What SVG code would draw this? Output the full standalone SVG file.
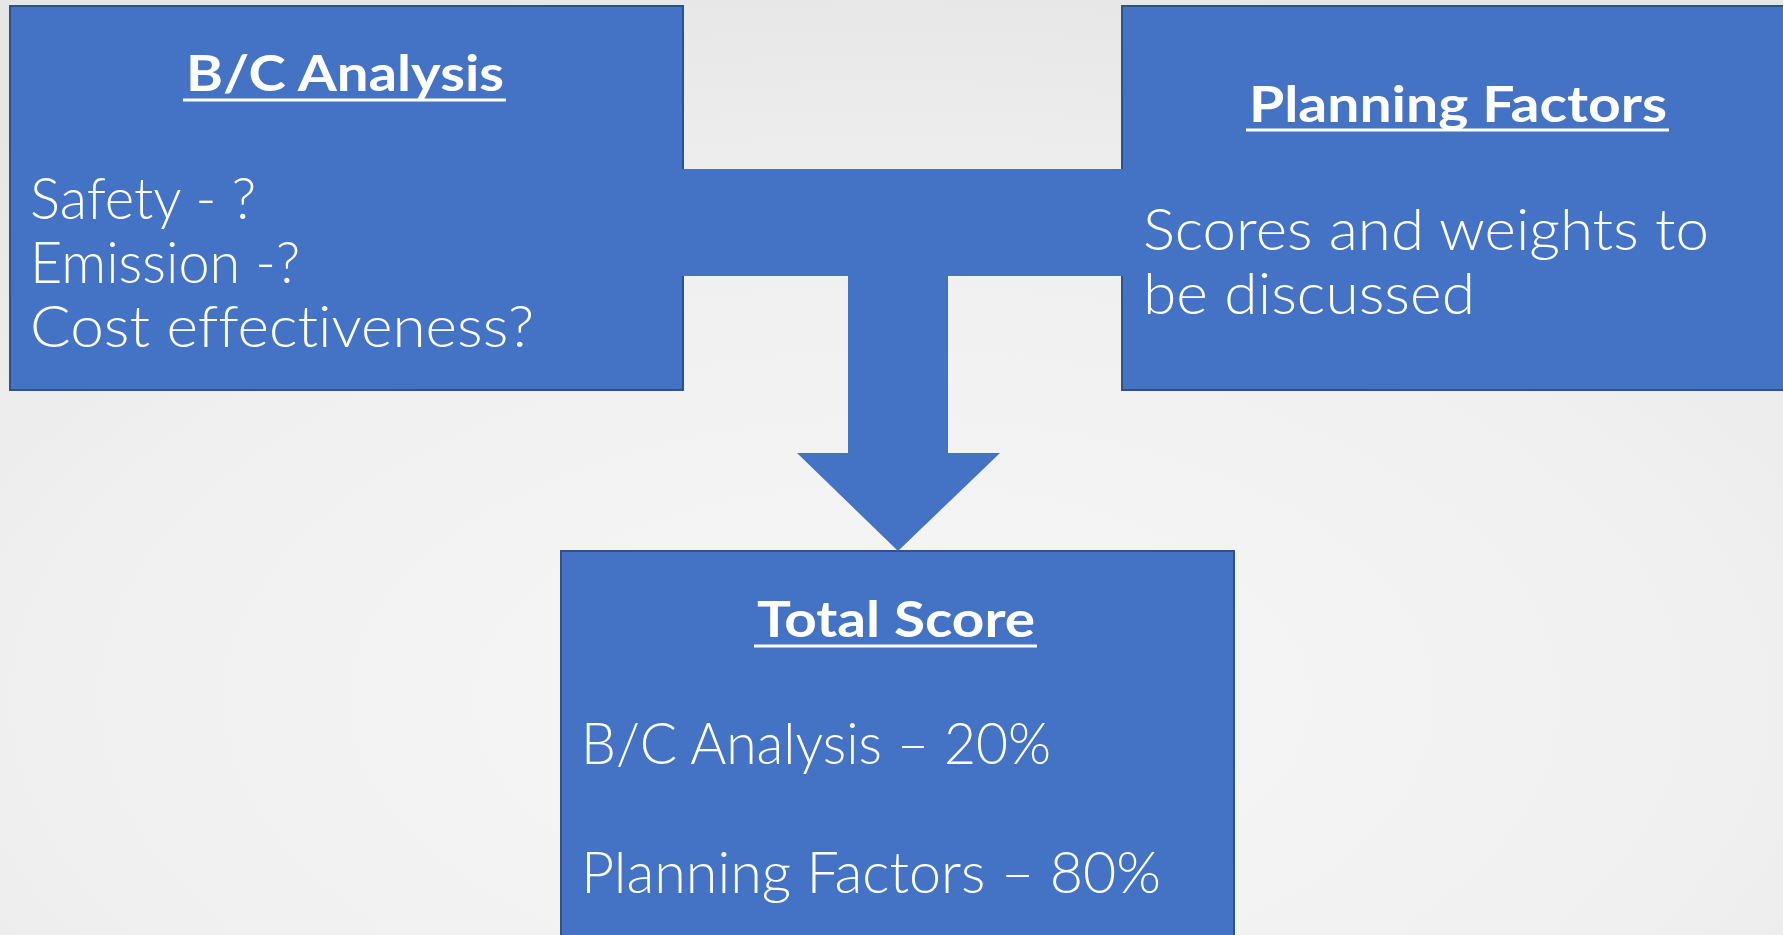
<svg xmlns="http://www.w3.org/2000/svg" width="1783" height="935" viewBox="0 0 1783 935">
  <defs>
    <radialGradient id="bg" cx="50%" cy="75%" r="80%">
      <stop offset="0" stop-color="#f6f6f6"/>
      <stop offset="0.6" stop-color="#f0f0f0"/>
      <stop offset="1" stop-color="#e6e6e6"/>
    </radialGradient>
  </defs>
  <style>
    .box { fill: #4472C4; stroke: #2F528F; stroke-width: 2; }
    .conn { fill: #4472C4; stroke: none; }
    .title { font-family: "Lato", "Liberation Sans", sans-serif; font-weight: 700; font-size: 50px; fill: #ffffff; font-variant-ligatures: none; }
    .ul { stroke: #ffffff; stroke-width: 3; }
    .body { font-family: "Lato", "Liberation Sans", sans-serif; font-weight: 300; font-size: 58px; fill: #ffffff; font-variant-ligatures: none; }
  </style>
  <rect x="0" y="0" width="1783" height="935" fill="url(#bg)"/>

  <g id="bc-analysis">
    <rect class="box" x="10" y="6" width="673" height="384"/>
    <text class="title" x="186" y="91" textLength="318" lengthAdjust="spacingAndGlyphs">B/C Analysis</text>
    <line class="ul" x1="183" y1="100" x2="506" y2="100"/>
    <text class="body" x="30" y="219" textLength="226" lengthAdjust="spacingAndGlyphs">Safety - ?</text>
    <text class="body" x="30" y="283" textLength="270" lengthAdjust="spacingAndGlyphs">Emission -?</text>
    <text class="body" x="30" y="347" textLength="504" lengthAdjust="spacingAndGlyphs">Cost effectiveness?</text>
  </g>

  <g id="planning-factors">
    <rect class="box" x="1122" y="6" width="673" height="384"/>
    <text class="title" x="1249" y="122" textLength="418" lengthAdjust="spacingAndGlyphs">Planning Factors</text>
    <line class="ul" x1="1246" y1="130" x2="1669" y2="130"/>
    <text class="body" x="1143" y="250" textLength="566" lengthAdjust="spacingAndGlyphs">Scores and weights to</text>
    <text class="body" x="1143" y="314" textLength="332" lengthAdjust="spacingAndGlyphs">be discussed</text>
  </g>

  <g id="total-score">
    <rect class="box" x="561" y="551" width="673" height="400"/>
    <text class="title" x="757" y="637" textLength="278" lengthAdjust="spacingAndGlyphs">Total Score</text>
    <line class="ul" x1="754" y1="646" x2="1037" y2="646"/>
    <text class="body" x="581" y="764" textLength="470" lengthAdjust="spacingAndGlyphs">B/C Analysis – 20%</text>
    <text class="body" x="581" y="893" textLength="580" lengthAdjust="spacingAndGlyphs">Planning Factors – 80%</text>
  </g>

  <g id="connectors">
    <polygon class="conn" points="682,169 1123,169 1123,276 948,276 948,453 1000,453 898,551 797,453 848,453 848,276 682,276"/>
  </g>
</svg>
